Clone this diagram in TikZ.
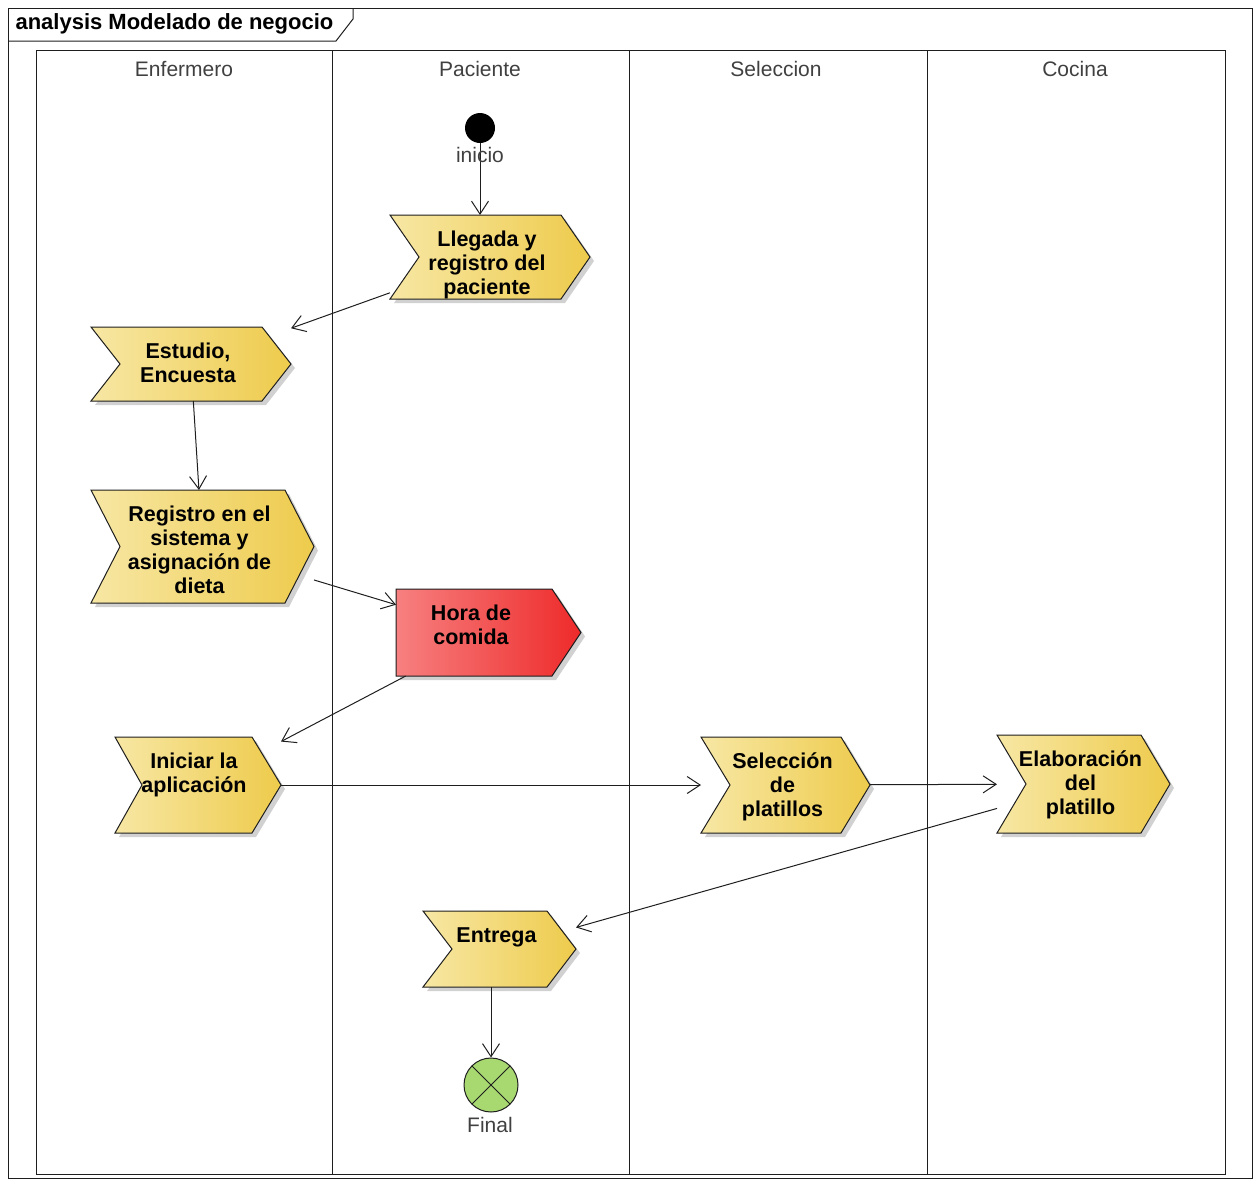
\documentclass[tikz,border=0pt]{standalone}
\usepackage{fontspec}
\setmainfont{Liberation Sans}
\usetikzlibrary{arrows.meta,calc}
\definecolor{stepyellowL}{HTML}{F7E7A4}
\definecolor{stepyellowR}{HTML}{EECB4C}
\definecolor{stepredL}{HTML}{F78080}
\definecolor{stepredR}{HTML}{EE2A2A}
\definecolor{finalgreen}{HTML}{A8D870}
\definecolor{InkGray}{HTML}{1E1E1E}
\tikzset{
  frame/.style={draw=InkGray, line width=1pt},
  stepbox/.style={rectangle, inner sep=0pt, outer sep=0pt},
  steptext/.style={font=\bfseries\fontsize{21.5}{24}\selectfont, text=black,
                   align=center, anchor=north, inner sep=0pt},
  yellowstep/.style={left color=stepyellowL, right color=stepyellowR,
                     draw=InkGray, line width=1pt},
  redstep/.style={left color=stepredL, right color=stepredR,
                  draw=InkGray, line width=1pt},
  stepshadow/.style={fill=black!40, opacity=0.45},
  flow/.style={-{Straight Barb[length=13pt,width=17pt]}, draw=InkGray,
               line width=1pt},
  lanetitle/.style={font=\fontsize{21}{24}\selectfont, text=black!75},
  statelabel/.style={font=\fontsize{21}{24}\selectfont, text=black!75},
  startnode/.style={circle, fill=black, minimum size=30pt, inner sep=0pt},
  endnode/.style={circle, draw=InkGray, fill=finalgreen, line width=1pt,
                  minimum size=54pt, inner sep=0pt,
                  path picture={\draw[InkGray, line width=1pt]
                    (path picture bounding box.north west) -- (path picture bounding box.south east)
                    (path picture bounding box.north east) -- (path picture bounding box.south west);}},
}
\newcommand{\tipw}{29}
% name, left, top, right, bottom, notch depth, text, colour style
\newcommand{\actstep}[8]{%
  \pgfmathsetmacro{\ymid}{(#3+#5)/2}%
  \pgfmathsetmacro{\xtip}{#4-\tipw}%
  \pgfmathsetmacro{\xnotch}{#2+#6}%
  \fill[stepshadow] (#2+4,#3+4) -- (\xtip+4,#3+4) -- (#4+4,\ymid+4)
    -- (\xtip+4,#5+4) -- (#2+4,#5+4) -- (\xnotch+4,\ymid+4) -- cycle;%
  \shade[#8] (#2,#3) -- (\xtip,#3) -- (#4,\ymid) -- (\xtip,#5) -- (#2,#5)
    -- (\xnotch,\ymid) -- cycle;%
  \node[stepbox, minimum width=#4-#2, minimum height=#5-#3] (#1)
    at ({(#2+#4)/2},\ymid) {};%
  \node[steptext] (#1-text) at ({(\xnotch+\xtip)/2-3},#3+16) {#7};%
}

\begin{document}
\begin{tikzpicture}[x=1pt, y=-1pt]
  \useasboundingbox (0,0) rectangle (1258,1181);

  % --- frame and swimlanes ------------------------------------------------
  \draw[frame] (8,8) rectangle (1252,1178);
  \draw[frame] (8,41) -- (336,41) -- (353,19) -- (353,8);
  \node[font=\bfseries\fontsize{22}{24}\selectfont, text=black, anchor=west]
    (diagram-title) at (12,24) {analysis Modelado de negocio};

  \draw[frame] (36,50) rectangle (1225,1174);
  \foreach \x in {332,629,927} {
    \draw[frame] (\x,50) -- (\x,1174);
  }
  \node[lanetitle] (lane-enfermero) at (184,69) {Enfermero};
  \node[lanetitle] (lane-paciente) at (480,69) {Paciente};
  \node[lanetitle] (lane-seleccion) at (776,69) {Seleccion};
  \node[lanetitle] (lane-cocina) at (1075,69) {Cocina};

  % --- activities ---------------------------------------------------------
  \actstep{llegada}{390}{215}{590}{299}{29}{Llegada y\\registro del\\paciente}{yellowstep}
  \actstep{estudio}{91}{327}{291}{401}{29}{Estudio,\\Encuesta}{yellowstep}
  \actstep{registro}{91}{490}{314}{603}{29}{Registro en el\\sistema y\\asignación de\\dieta}{yellowstep}
  \actstep{hora}{396}{589}{581}{676}{0}{Hora de\\comida}{redstep}
  \actstep{iniciar}{115}{737}{281}{833}{27}{Iniciar la\\aplicación}{yellowstep}
  \actstep{seleccion}{701}{737}{870}{833}{29}{Selección\\de\\platillos}{yellowstep}
  \actstep{elaboracion}{997}{735}{1170}{833}{29}{Elaboración\\del\\platillo}{yellowstep}
  \actstep{entrega}{423}{911}{576}{987}{29}{Entrega}{yellowstep}

  % --- start and end ------------------------------------------------------
  \node[startnode] (inicio) at (480,128) {};
  \node[endnode] (final) at (491,1085) {};

  % --- control flow -------------------------------------------------------
  \draw[flow] (inicio) -- (inicio |- llegada.north);
  \node[statelabel] (inicio-label) at (480,155) {inicio};
  \node[statelabel] (final-label) at (490,1125) {Final};
  \draw[flow] (llegada) -- (estudio);
  \draw[flow] (estudio) -- (registro);
  \draw[flow] (registro) -- (hora);
  \draw[flow] (hora) -- (iniciar);
  \draw[flow] (iniciar) -- (seleccion);
  \draw[flow] (seleccion) -- (elaboracion);
  \draw[flow] (elaboracion) -- (entrega);
  \draw[flow] (final |- entrega.south) -- (final);

\end{tikzpicture}
\end{document}
